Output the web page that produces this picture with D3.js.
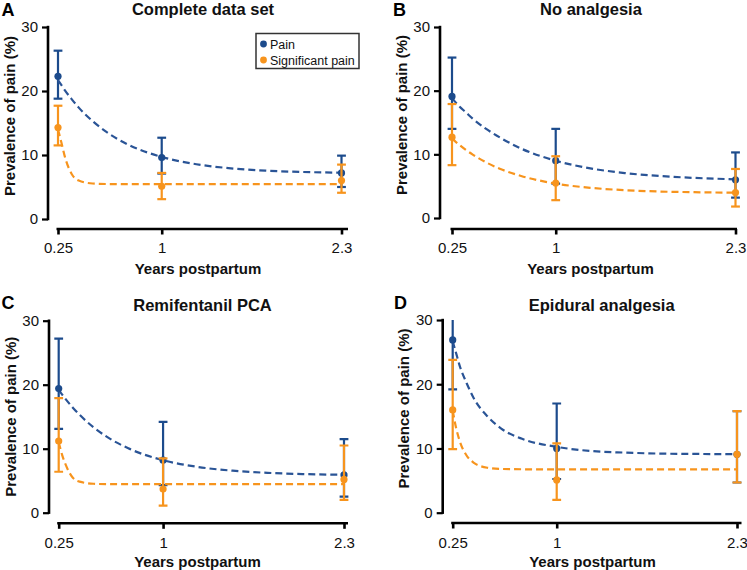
<!DOCTYPE html>
<html>
<head>
<meta charset="utf-8">
<script src="https://cdn.jsdelivr.net/npm/d3@7"></script>
<style>
  html, body { margin: 0; padding: 0; background: #fff; }
  svg { display: block; font-family: "Liberation Sans", Arial, Helvetica, sans-serif; }
</style>
</head>
<body>
<svg id="chart" width="747" height="570"></svg>
<script>
// ---------------- DATA ----------------
const years = [0.25, 1, 2.3];
const xTickLabels = ["0.25", "1", "2.3"];
const yTicks = [0, 10, 20, 30];
const panelLetters = ["A", "B", "C", "D"];
const panelTitles = ["Complete data set", "No analgesia", "Remifentanil PCA", "Epidural analgesia"];
const seriesNames = ["Pain", "Significant pain"];
const xAxisTitle = "Years postpartum";
const yAxisTitle = "Prevalence of pain (%)";

// Pain (per panel A..D, at 0.25 / 1 / 2.3 years)
const painMean = [[22.3, 9.6, 7.2], [19.1, 9.0, 6.0], [19.4, 8.2, 5.9], [26.9, 10.0, 9.1]];
const painLow  = [[18.8, 7.1, 5.0], [14.0, 5.4, 3.2], [13.1, 4.3, 2.5], [19.2, 5.25, 4.7]];
const painHigh = [[26.3, 12.7, 9.9], [25.2, 14.0, 10.3], [27.2, 14.2, 11.5], [34.6, 17.0, 15.8]];

// Significant pain
const sigMean = [[14.3, 5.1, 6.0], [12.7, 5.5, 4.0], [11.2, 3.7, 5.2], [16.0, 5.1, 9.1]];
const sigLow  = [[11.5, 3.1, 4.1], [8.3, 2.8, 1.8], [6.4, 1.1, 2.0], [9.9, 2.0, 4.7]];
const sigHigh = [[17.7, 7.2, 8.5], [17.9, 9.7, 7.7], [17.9, 8.5, 10.5], [23.8, 10.8, 15.8]];

// Fitted curves at these x positions
const curveX = [0.25, 0.275, 0.3, 0.35, 0.4, 0.5, 0.6, 0.75, 1, 1.25, 1.5, 1.75, 2, 2.3];
const painCurve = [
  [21.7, 20.9, 20.1, 18.7, 17.4, 15.3, 13.6, 11.7, 9.7, 8.56, 7.92, 7.56, 7.36, 7.23],
  [18.8, 18.2, 17.6, 16.6, 15.6, 13.95, 12.6, 10.9, 9.0, 7.8, 7.06, 6.6, 6.3, 6.08],
  [19.2, 18.45, 17.75, 16.45, 15.3, 13.35, 11.8, 10.06, 8.2, 7.15, 6.56, 6.23, 6.04, 5.92],
  [26.7, 24.8, 22.9, 20.2, 17.9, 15.0, 13.1, 11.5, 10.25, 9.6, 9.35, 9.2, 9.15, 9.1]
];
const sigCurve = [
  [14.0, 11.9, 9.7, 7.0, 6.0, 5.55, 5.47, 5.45, 5.45, 5.45, 5.45, 5.45, 5.45, 5.45],
  [12.5, 12.0, 11.55, 10.7, 9.96, 8.7, 7.7, 6.6, 5.4, 4.74, 4.37, 4.16, 4.05, 3.97],
  [11.0, 9.0, 7.5, 5.5, 4.85, 4.52, 4.46, 4.45, 4.45, 4.45, 4.45, 4.45, 4.45, 4.45],
  [15.9, 13.15, 11.2, 8.9, 7.8, 7.0, 6.81, 6.76, 6.75, 6.75, 6.75, 6.75, 6.75, 6.75]
];

// ---------------- LAYOUT / STYLE ----------------
const layout = [
  { axisX: 48,    x0: 58,    x1: 341.5, yTop: 27,    yBot: 219,   xAxisY: 229,   xEnd: 348,
    titleX: 203,   titleY: 14.5,  letterX: 1.5,  letterY: 15.5,  yLabCy: 116,   tickY: 253,  xTitleX: 198,   xTitleY: 274 },
  { axisX: 440,   x0: 452,   x1: 735.5, yTop: 27,    yBot: 218,   xAxisY: 229,   xEnd: 737,
    titleX: 591,   titleY: 14.5,  letterX: 393,  letterY: 15.5,  yLabCy: 115,   tickY: 253,  xTitleX: 590.5, xTitleY: 274 },
  { axisX: 49,    x0: 58.7,  x1: 344,   yTop: 320.7, yBot: 512.7, xAxisY: 523.3, xEnd: 348,
    titleX: 202.5, titleY: 311,   letterX: 1.5,  letterY: 308.5, yLabCy: 416.7, tickY: 548,  xTitleX: 197.5, xTitleY: 567 },
  { axisX: 442.7, x0: 452.7, x1: 737,   yTop: 320,   yBot: 512.7, xAxisY: 523,   xEnd: 741.5,
    titleX: 601.7, titleY: 311,   letterX: 394,  letterY: 308.5, yLabCy: 408.5, tickY: 548,  xTitleX: 592.5, xTitleY: 567 }
];
const colors = ["#1c4b8c", "#f7941d"];
const curveColors = ["#2a5496", "#f7941d"];

const svg = d3.select("#chart");

layout.forEach((L, p) => {
  const g = svg.append("g");
  const x = d3.scaleLinear().domain([years[0], years[2]]).range([L.x0, L.x1]);
  const y = d3.scaleLinear().domain([0, 30]).range([L.yBot, L.yTop]);

  // clip for marks (top of plot)
  const clipId = "clip" + p;
  svg.append("clipPath").attr("id", clipId).append("rect")
    .attr("x", L.axisX + 2).attr("y", L.yTop).attr("width", 747 - L.axisX).attr("height", L.xAxisY - L.yTop);

  // Y axis
  const yAxis = d3.axisLeft(y).tickValues(yTicks).tickSize(6).tickPadding(4).tickFormat(d3.format("d"));
  const ya = g.append("g").attr("transform", `translate(${L.axisX},0)`).call(yAxis);
  ya.select(".domain").attr("d", `M0,${L.yBot + 1.2}V${L.yTop - 1.2}`).attr("stroke", "#000").attr("stroke-width", 2.6);
  ya.selectAll(".tick line").attr("stroke", "#000").attr("stroke-width", 2.2);
  ya.selectAll(".tick text").attr("font-size", 15).attr("fill", "#111").attr("font-family", "Liberation Sans, Arial, sans-serif");

  // X axis
  const xAxis = d3.axisBottom(x).tickValues(years).tickSize(5.5).tickPadding(7)
    .tickFormat((d, i) => xTickLabels[i]);
  const xa = g.append("g").attr("transform", `translate(0,${L.xAxisY})`).call(xAxis);
  xa.select(".domain").attr("d", `M${L.x0 - 1.5},0H${L.xEnd}`).attr("stroke", "#000").attr("stroke-width", 2.6);
  xa.selectAll(".tick line").attr("stroke", "#000").attr("stroke-width", 2.6);
  xa.selectAll(".tick text").attr("font-size", 15).attr("fill", "#111")
    .attr("font-family", "Liberation Sans, Arial, sans-serif")
    .attr("y", null).attr("dy", null)
    .attr("transform", `translate(0,${L.tickY - L.xAxisY})`);

  // titles
  g.append("text").attr("x", L.titleX).attr("y", L.titleY).attr("text-anchor", "middle")
    .attr("font-size", 16.5).attr("font-weight", "bold").attr("fill", "#111").text(panelTitles[p]);
  g.append("text").attr("x", L.letterX).attr("y", L.letterY)
    .attr("font-size", 18).attr("font-weight", "bold").attr("fill", "#000").text(panelLetters[p]);
  g.append("text").attr("x", L.xTitleX).attr("y", L.xTitleY).attr("text-anchor", "middle")
    .attr("font-size", 15).attr("font-weight", "bold").attr("fill", "#111").text(xAxisTitle);
  g.append("text").attr("transform", `translate(${L.axisX - 33.5},${L.yLabCy}) rotate(-90)`)
    .attr("text-anchor", "middle").attr("font-size", 15).attr("font-weight", "bold").attr("fill", "#111")
    .text(yAxisTitle);

  const marks = g.append("g").attr("clip-path", `url(#${clipId})`);
  const series = [
    { mean: painMean[p], low: painLow[p], high: painHigh[p], curve: painCurve[p] },
    { mean: sigMean[p], low: sigLow[p], high: sigHigh[p], curve: sigCurve[p] }
  ];
  const line = d3.line().x(d => x(d[0])).y(d => y(d[1])).curve(d3.curveMonotoneX);

  series.forEach((s, si) => {
    const sg = marks.append("g");
    const c = colors[si];
    const pts = years.map((yr, i) => ({ yr, m: s.mean[i], lo: s.low[i], hi: s.high[i] }));
    // error bars
    sg.selectAll("line.eb").data(pts).join("line").attr("class", "eb")
      .attr("x1", d => x(d.yr)).attr("x2", d => x(d.yr))
      .attr("y1", d => y(d.lo)).attr("y2", d => y(d.hi))
      .attr("stroke", c).attr("stroke-width", 2.2);
    sg.selectAll("line.capH").data(pts).join("line").attr("class", "capH")
      .attr("x1", d => x(d.yr) - 4.4).attr("x2", d => x(d.yr) + 4.4)
      .attr("y1", d => y(d.hi)).attr("y2", d => y(d.hi))
      .attr("stroke", c).attr("stroke-width", 2.2);
    sg.selectAll("line.capL").data(pts).join("line").attr("class", "capL")
      .attr("x1", d => x(d.yr) - 4.4).attr("x2", d => x(d.yr) + 4.4)
      .attr("y1", d => y(d.lo)).attr("y2", d => y(d.lo))
      .attr("stroke", c).attr("stroke-width", 2.2);
    // fitted curve
    sg.append("path").datum(curveX.map((cx, i) => [cx, s.curve[i]]))
      .attr("d", line).attr("fill", "none").attr("stroke", curveColors[si])
      .attr("stroke-width", 2.2).attr("stroke-dasharray", "7,4");
    // points
    sg.selectAll("circle").data(pts).join("circle")
      .attr("cx", d => x(d.yr)).attr("cy", d => y(d.m)).attr("r", 3.6).attr("fill", c);
  });

  // legend (panel A only)
  if (p === 0) {
    const lg = g.append("g");
    lg.append("rect").attr("x", 256).attr("y", 33.5).attr("width", 103).attr("height", 35)
      .attr("fill", "#fff").attr("stroke", "#333").attr("stroke-width", 1.5);
    seriesNames.forEach((name, i) => {
      lg.append("circle").attr("cx", 263.5).attr("cy", 44 + i * 16).attr("r", 3.4).attr("fill", colors[i]);
      lg.append("text").attr("x", 270).attr("y", 48.5 + i * 16).attr("font-size", 12.5)
        .attr("fill", "#111").text(name);
    });
  }
});
</script>
</body>
</html>
